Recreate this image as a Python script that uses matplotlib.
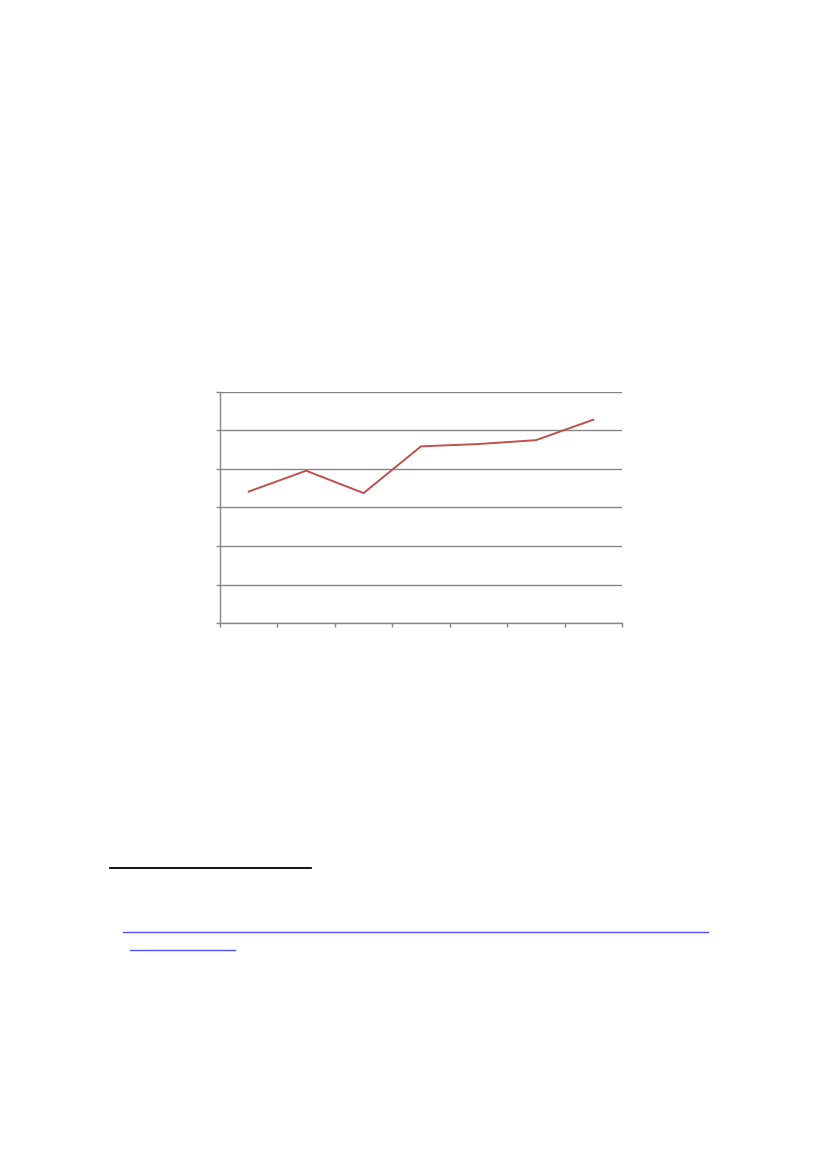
import matplotlib
matplotlib.use("Agg")
import matplotlib.pyplot as plt
from matplotlib.lines import Line2D

# Data (the chart has no visible labels)
categories = ["1", "2", "3", "4", "5", "6", "7"]
values = [3.41, 3.95, 3.37, 4.58, 4.64, 4.74, 5.27]
y_ticks = [0, 1, 2, 3, 4, 5, 6]

W, H = 827, 1169
fig = plt.figure(figsize=(W / 100, H / 100), dpi=100)
fig.patch.set_facecolor("white")

left, right, top, bottom = 220, 622, 391.5, 623.3
ax = fig.add_axes([left / W, 1 - bottom / H, (right - left) / W, (bottom - top) / H])

xpos = [i + 0.5 for i in range(len(categories))]
ax.plot(xpos, values, color="#C0504D", linewidth=1.4, solid_joinstyle="miter")

ax.set_xlim(0, len(categories))
ax.set_ylim(y_ticks[0], y_ticks[-1])
ax.set_yticks(y_ticks)
ax.set_yticklabels([""] * len(y_ticks))
ax.set_xticks(range(len(categories) + 1))
ax.set_xticklabels([""] * (len(categories) + 1))

grid_col = "#868686"
ax.grid(axis="y", color=grid_col, linewidth=1.0)
ax.set_axisbelow(True)
for s in ["top", "right"]:
    ax.spines[s].set_visible(False)
for s in ["left", "bottom"]:
    ax.spines[s].set_color(grid_col)
    ax.spines[s].set_linewidth(1.0)
ax.tick_params(axis="both", colors=grid_col, length=2.6, width=1.0, direction="out")

# Footnote separator and link underlines on the page
def hline(x0, x1, y, color, lw):
    fig.add_artist(Line2D([x0 / W, x1 / W], [1 - y / H, 1 - y / H],
                          transform=fig.transFigure, color=color, linewidth=lw))

hline(110, 311, 868, "black", 1.3)
hline(123, 708, 932, "#5050FF", 1.0)
hline(130, 235, 950, "#5050FF", 1.0)

fig.savefig("out.png", dpi=100, facecolor="white")
